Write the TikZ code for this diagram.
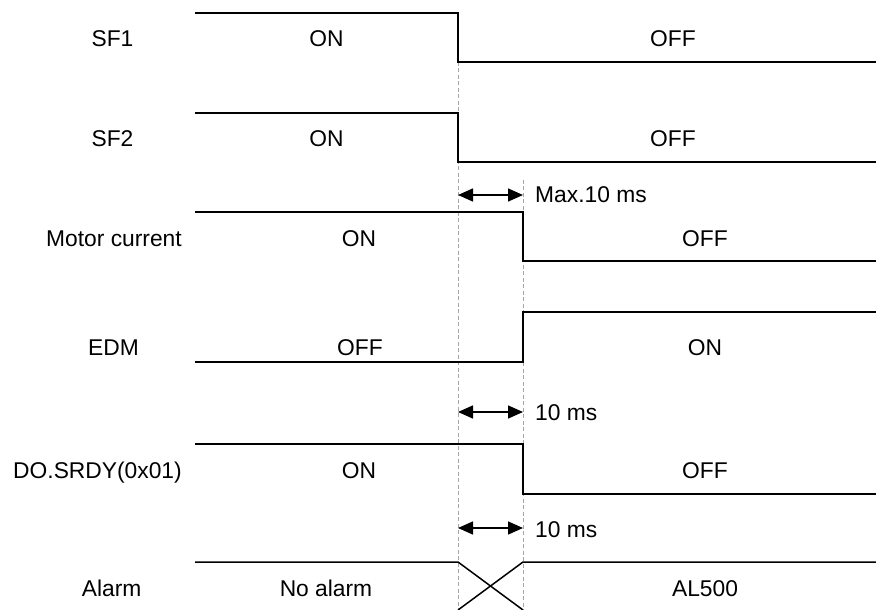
\documentclass[tikz,border=0pt]{standalone}
\usepackage{fontspec}
\setmainfont{Liberation Sans}
\usetikzlibrary{arrows.meta}
\begin{document}
\begin{tikzpicture}[x=1bp,y=-1bp,
  sig/.style={line width=1.5bp, line join=miter},
  guide/.style={draw=black!35, line width=0.9bp, dash pattern=on 4bp off 2.5bp},
  span/.style={line width=1.5bp, {Triangle[length=15bp,width=13bp]}-{Triangle[length=15bp,width=13bp]}},
  lbl/.style={anchor=base, inner sep=0pt, font=\fontsize{22.8bp}{27bp}\selectfont},
  lblw/.style={anchor=base west, inner sep=0pt, font=\fontsize{22.8bp}{27bp}\selectfont}]
\useasboundingbox (0,0) rectangle (876,610);

% timing guides
\coordinate (g1top) at (458,62);
\coordinate (g1bot) at (458,610);
\coordinate (g2top) at (523,180);
\coordinate (g2bot) at (523,610);
\draw[guide] (g1top) -- (g1bot);
\draw[guide] (g2top) -- (g2bot);

% SF1
\draw[sig] (195,13) -- (458,13) -- (458,62) -- (876,62);
% SF2
\draw[sig] (195,113) -- (458,113) -- (458,162) -- (876,162);
% Motor current
\draw[sig] (195,212) -- (523,212) -- (523,261) -- (876,261);
% EDM
\draw[sig] (195,362) -- (523,362) -- (523,312) -- (876,312);
% DO.SRDY
\draw[sig] (195,444) -- (523,444) -- (523,494) -- (876,494);
% Alarm
\draw[sig] (195,562) -- (458,562) -- (523,610);
\draw[sig] (876,562) -- (523,562) -- (458,610);

% time spans
\coordinate (s1l) at (458,195); \coordinate (s1r) at (523,195);
\coordinate (s2l) at (458,412); \coordinate (s2r) at (523,412);
\coordinate (s3l) at (458,528); \coordinate (s3r) at (523,528);
\draw[span] (s1l) -- (s1r);
\draw[span] (s2l) -- (s2r);
\draw[span] (s3l) -- (s3r);
\node[lblw] (m1) at (535,203) {Max.10 ms};
\node[lblw] (m2) at (535,420) {10 ms};
\node[lblw] (m3) at (535,537) {10 ms};

% signal names
\node[lbl] (n1) at (112.5,46.5) {SF1};
\node[lbl] (n2) at (112.5,146.5) {SF2};
\node[lbl] (n3) at (114,247) {Motor current};
\node[lbl] (n4) at (113.5,355) {EDM};
\node[lbl] (n5) at (97.5,478) {DO.SRDY(0x01)};
\node[lbl] (n6) at (111.7,596) {Alarm};

% states
\node[lbl] (v1a) at (326.5,46.5) {ON};
\node[lbl] (v1b) at (673,46.5) {OFF};
\node[lbl] (v2a) at (326.5,146.5) {ON};
\node[lbl] (v2b) at (673,146.5) {OFF};
\node[lbl] (v3a) at (359,247) {ON};
\node[lbl] (v3b) at (705,247) {OFF};
\node[lbl] (v4a) at (360,355) {OFF};
\node[lbl] (v4b) at (705,355) {ON};
\node[lbl] (v5a) at (359,478) {ON};
\node[lbl] (v5b) at (705,478) {OFF};
\node[lbl] (v6a) at (326,596) {No alarm};
\node[lbl] (v6b) at (705,596) {AL500};
\end{tikzpicture}
\end{document}
